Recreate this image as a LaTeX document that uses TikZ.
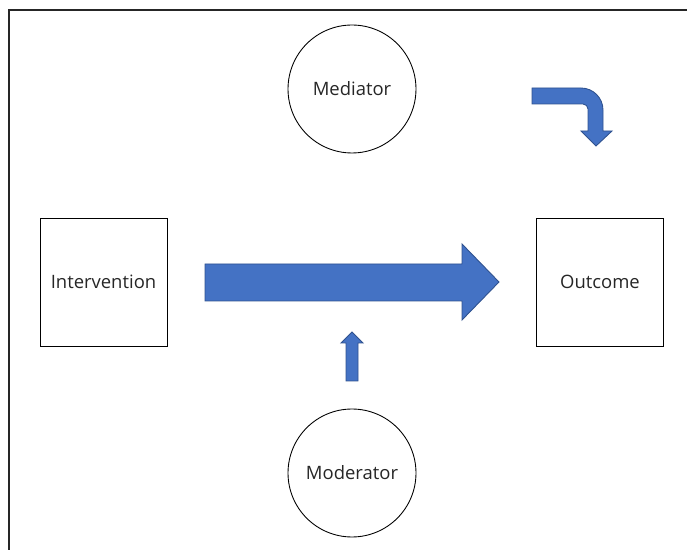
\documentclass[tikz,border=0pt]{standalone}
\usepackage{fontspec}
\setmainfont{Open Sans}
\definecolor{arrowblue}{RGB}{68,114,196}
\definecolor{arrowedge}{RGB}{47,82,143}
\definecolor{textgrey}{RGB}{38,38,38}

\begin{document}
\begin{tikzpicture}
	[x=0.02cm, y=-0.02cm,
	mynode/.style={
		circle,
		draw,
		line width=0.5pt,
		minimum size=2.56cm,
		text=textgrey,
		font=\fontsize{10.5}{12}\selectfont
	},
	mybox/.style={rectangle,draw,line width=0.5pt,minimum width=2.54cm,minimum height=2.56cm,text=textgrey,font=\fontsize{10.5}{12}\selectfont},
	blockarrow/.style={fill=arrowblue,draw=arrowedge,line width=0.5pt,line join=miter}]
	\useasboundingbox (0,0) rectangle (687,550);
	\draw[line width=0.9pt,black!85] (687,10) -- (9,10) -- (9,550);
	\node[mybox] (intervention) at (103.5,282) {Intervention};
	\node[mybox] (outcome) at (600,282) {Outcome};
	\node[mynode] (mediator) at (352,89) {Mediator};
	\node[mynode] (moderator) at (352,473) {Moderator};
	% main effect
	\draw[blockarrow] (205,264) -- (462,264) -- (462,244) -- (499,282)
		-- (462,320) -- (462,301) -- (205,301) -- cycle;
	% moderator arrow
	\draw[blockarrow] (346,381) -- (346,343) -- (341,343) -- (352,332)
		-- (363,343) -- (358,343) -- (358,381) -- cycle;
	% bent arrow
	\draw[blockarrow] (532,88) [rounded corners=0.44cm] -- (603,88) [sharp corners] -- (603,131)
		-- (612,131) -- (596,146) -- (581,131) -- (588,131) [rounded corners=0.1cm] -- (588,104)
		[sharp corners] -- (532,104) -- cycle;
\end{tikzpicture}
\end{document}
